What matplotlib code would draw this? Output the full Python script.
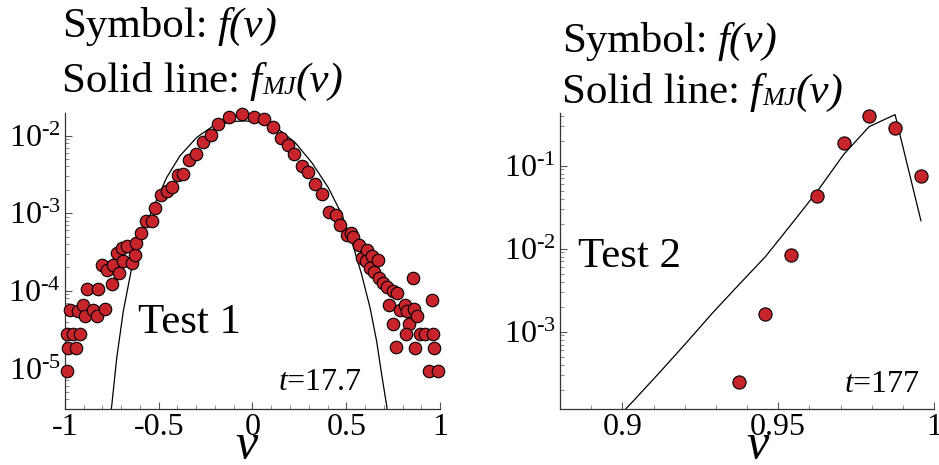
import numpy as np
import matplotlib
matplotlib.use("Agg")
import matplotlib.pyplot as plt
from matplotlib import transforms
from matplotlib.ticker import MultipleLocator, FixedLocator, FixedFormatter

plt.rcParams['font.family'] = ['Liberation Serif', 'DejaVu Serif']
plt.rcParams['mathtext.fontset'] = 'custom'
plt.rcParams['mathtext.rm'] = 'Liberation Serif'
plt.rcParams['mathtext.it'] = 'Liberation Serif:italic'
plt.rcParams['axes.unicode_minus'] = False

# Test 1 (t=17.7): simulated distribution f(v)
v1 = [-0.991, -0.986, -0.941, -0.991, -0.959, -0.920, -0.973, -0.929, -0.906, -0.893,
      -0.881, -0.849, -0.828, -0.822, -0.787, -0.804, -0.778, -0.751, -0.742, -0.712,
      -0.724, -0.689, -0.698, -0.671, -0.644, -0.627, -0.621, -0.596, -0.568, -0.538,
      -0.520, -0.488, -0.458, -0.431, -0.396, -0.372, -0.337, -0.301, -0.262, -0.221,
      -0.182, -0.124, -0.054, 0.010, 0.061, 0.111, 0.152, 0.191, 0.221, 0.262,
      0.298, 0.333, 0.369, 0.410, 0.445, 0.467, 0.502, 0.524, 0.538, 0.570,
      0.582, 0.612, 0.605, 0.636, 0.627, 0.668, 0.648, 0.676, 0.698, 0.716,
      0.751, 0.769, 0.730, 0.748, 0.764, 0.787, 0.813, 0.826, 0.836, 0.819,
      0.861, 0.876, 0.855, 0.868, 0.893, 0.920, 0.961, 0.956, 0.968, 0.943, 0.988]
f1 = [9.3e-6, 1.85e-5, 1.85e-5, 2.76e-5, 2.76e-5, 2.76e-5, 5.69e-5, 5.52e-5, 6.59e-5, 4.75e-5,
      1.06e-4, 5.69e-5, 4.75e-5, 1.06e-4, 5.8e-5, 2.12e-4, 1.87e-4, 1.22e-4, 2.16e-4, 1.69e-4,
      3.06e-4, 2.39e-4, 3.56e-4, 3.73e-4, 2.28e-4, 2.92e-4, 4.12e-4, 5.56e-4, 8.0e-4, 8.0e-4,
      1.17e-3, 1.73e-3, 1.95e-3, 2.15e-3, 3.14e-3, 3.21e-3, 4.9e-3, 5.81e-3, 8.3e-3, 1.01e-2,
      1.39e-2, 1.74e-2, 1.87e-2, 1.72e-2, 1.61e-2, 1.28e-2, 9.3e-3, 7.65e-3, 5.81e-3, 4.1e-3,
      3.36e-3, 2.38e-3, 1.77e-3, 1.05e-3, 9.57e-4, 6.97e-4, 5.28e-4, 5.56e-4, 4.88e-4, 3.93e-4,
      2.64e-4, 3.31e-4, 2.39e-4, 2.77e-4, 1.96e-4, 2.46e-4, 1.77e-4, 1.46e-4, 1.26e-4, 1.13e-4,
      9.8e-5, 9.3e-5, 6.59e-5, 3.72e-5, 1.88e-5, 5.69e-5, 6.59e-5, 5.41e-5, 3.72e-5, 2.76e-5,
      5.86e-5, 4.75e-5, 1.46e-4, 1.85e-5, 2.76e-5, 2.76e-5, 2.76e-5, 7.66e-5, 1.85e-5, 9.3e-6, 9.3e-6]

# Test 1: Maxwell-Juttner curve (log10 values)
v1_mj = [-0.756, -0.751, -0.724, -0.689, -0.644, -0.591, -0.529, -0.458, -0.387, -0.298,
         -0.209, -0.102, -0.040, 0.040, 0.138, 0.227, 0.316, 0.404, 0.476, 0.529,
         0.582, 0.627, 0.662, 0.689, 0.716, 0.719]
logf1_mj = [-5.56, -5.488, -4.865, -4.262, -3.703, -3.274, -2.929, -2.542, -2.262, -2.026,
            -1.875, -1.819, -1.812, -1.828, -1.919, -2.090, -2.348, -2.671, -3.015, -3.359,
            -3.790, -4.219, -4.649, -5.080, -5.488, -5.56]

# Test 2 (t=177)
v2 = [0.9374, 0.9459, 0.9541, 0.9625, 0.9710, 0.9792, 0.9875, 0.9958]
f2 = [2.5e-4, 1.63e-3, 8.3e-3, 0.0435, 0.186, 0.393, 0.281, 0.0758]

v2_mj = [0.8954, 0.9038, 0.9122, 0.9206, 0.9290, 0.9374, 0.9459, 0.9541, 0.9625, 0.9710,
         0.9792, 0.9875, 0.9958]
f2_mj = [7.0e-5, 1.5e-4, 3.3e-4, 7.4e-4, 1.69e-3, 3.68e-3, 8.0e-3, 0.0194, 0.0487, 0.136,
         0.295, 0.411, 0.0217]

red = '#c8242c'
fig = plt.figure(figsize=(9.39, 4.65), dpi=100)
ax1 = fig.add_axes([0.0692, 0.1204, 0.3994, 0.6366])
ax2 = fig.add_axes([0.5964, 0.1204, 0.3983, 0.6366])
renderer = fig.canvas.get_renderer()


def style(ax):
    ax.set_yscale('log')
    for s in ['top', 'right']:
        ax.spines[s].set_visible(False)
    for s in ['left', 'bottom']:
        ax.spines[s].set_linewidth(0.9)
        ax.spines[s].set_color('#333333')
    ax.tick_params(which='major', direction='in', length=5, width=0.8,
                   labelsize=23, pad=3, color='#555555')
    ax.tick_params(which='minor', direction='in', length=3, width=0.6, color='#777777')


def rich(ax, x, y, parts):
    # parts: (text, fontsize, italic, baseline shift px, gap after px)
    dx = 0.0
    for s, size, ital, dy, gap in parts:
        tr = transforms.offset_copy(ax.transAxes, fig=fig, x=dx, y=dy, units='dots')
        t = ax.text(x, y, s, transform=tr, fontsize=size, va='baseline', ha='left',
                    style='italic' if ital else 'normal')
        dx += t.get_window_extent(renderer).width + gap


def titles(ax, x, y1, y2):
    rich(ax, x, y1, [('Symbol:', 31, False, 0, 10), ('f(v)', 31, True, 0, 0)])
    rich(ax, x, y2, [('Solid line:', 31, False, 0, 10), ('f', 31, True, 0, 0),
                     ('MJ', 19, True, -2, 0), ('(v)', 31, True, 0, 0)])


# left panel
ax1.plot(v1_mj, np.power(10.0, logf1_mj), color='black', lw=0.9)
ax1.plot(v1, f1, 'o', ms=9, mfc=red, mec='black', mew=0.8, clip_on=False, zorder=3)
style(ax1)
ax1.set_xlim(-1, 1)
ax1.set_ylim(3.0e-6, 0.0195)
ax1.xaxis.set_major_locator(FixedLocator([-1, -0.5, 0, 0.5, 1]))
ax1.xaxis.set_major_formatter(FixedFormatter(['-1', '-0.5', '0', '0.5', '1']))
ax1.xaxis.set_minor_locator(MultipleLocator(0.1))
ax1.yaxis.set_major_locator(FixedLocator([1e-5, 1e-4, 1e-3, 1e-2]))
ax1.yaxis.set_major_formatter(FixedFormatter([r'10$^{\text{-}5}$', r'10$^{\text{-}4}$',
                                              r'10$^{\text{-}3}$', r'10$^{\text{-}2}$']))

titles(ax1, -0.008, 1.257, 1.071)
ax1.text(0.195, 0.257, 'Test 1', transform=ax1.transAxes, fontsize=31, va='baseline')
ax1.text(0.792, 0.064, r'$\mathit{t}$=17.7', transform=ax1.transAxes, fontsize=23,
         va='baseline', ha='right')
ax1.text(0.485, -0.165, 'v', style='italic', transform=ax1.transAxes, fontsize=36,
         va='baseline', ha='center')

# right panel
ax2.plot(v2_mj, f2_mj, color='black', lw=0.9)
ax2.plot(v2, f2, 'o', ms=9.5, mfc=red, mec='black', mew=0.8, clip_on=False, zorder=3)
style(ax2)
ax2.set_xlim(0.88, 1.0)
ax2.set_ylim(1.17e-4, 0.43)
ax2.xaxis.set_major_locator(FixedLocator([0.9, 0.95, 1.0]))
ax2.xaxis.set_major_formatter(FixedFormatter(['0.9', '0.95', '1']))
ax2.xaxis.set_minor_locator(MultipleLocator(0.01))
ax2.yaxis.set_major_locator(FixedLocator([1e-3, 1e-2, 1e-1]))
ax2.yaxis.set_major_formatter(FixedFormatter([r'10$^{\text{-}3}$', r'10$^{\text{-}2}$',
                                              r'10$^{\text{-}1}$']))

titles(ax2, 0.005, 1.206, 1.034)
ax2.text(0.048, 0.480, 'Test 2', transform=ax2.transAxes, fontsize=31, va='baseline')
ax2.text(0.963, 0.057, r'$\mathit{t}$=177', transform=ax2.transAxes, fontsize=23,
         va='baseline', ha='right')
ax2.text(0.529, -0.165, 'v', style='italic', transform=ax2.transAxes, fontsize=36,
         va='baseline', ha='center')

fig.savefig('out.png', dpi=100)
